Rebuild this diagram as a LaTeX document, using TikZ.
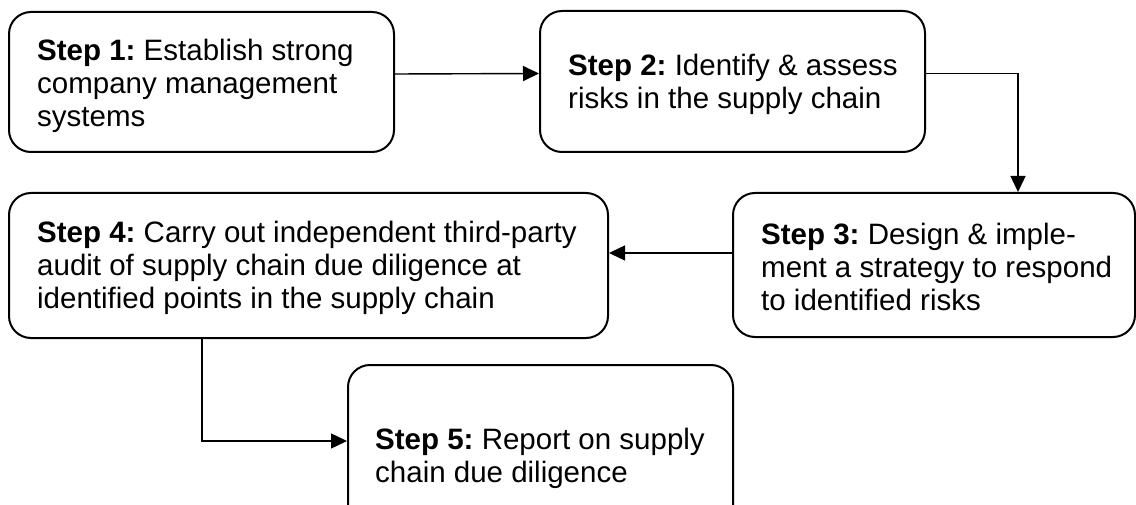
\documentclass[tikz,border=0pt]{standalone}
\usepackage{fontspec}
\setmainfont{Liberation Sans}
\usetikzlibrary{arrows.meta}
\frenchspacing
\begin{document}
\begin{tikzpicture}[x=1pt,y=-1pt,
  stepbox/.style={draw, line width=2pt, rounded corners=22pt, inner sep=0pt},
  steptext/.style={anchor=west, align=left, inner sep=0pt, font=\fontsize{29.5}{33}\selectfont},
  arr/.style={line width=1.4pt, -{Triangle[length=16pt,width=15pt]}}]
\useasboundingbox[fill=white] (0,0) rectangle (1136,505);
% boxes
\node[stepbox, minimum width=385pt, minimum height=140pt] (b1) at (201.5,82) {};
\node[stepbox, minimum width=385pt, minimum height=141pt] (b2) at (732.5,81.5) {};
\node[stepbox, minimum width=402pt, minimum height=144pt] (b3) at (934,265) {};
\node[stepbox, minimum width=599pt, minimum height=145pt] (b4) at (308.5,265.5) {};
\node[stepbox, minimum width=385pt, minimum height=180pt] (b5) at (540.5,455) {};
% texts
\node[steptext] (t1) at ([xshift=29pt,yshift=-4pt]b1.west) {\textbf{Step 1:} Establish strong\\company management\\systems};
\node[steptext] (t2) at ([xshift=29pt,yshift=-3pt]b2.west) {\textbf{Step 2:} Identify \& assess\\risks in the supply chain};
\node[steptext] (t3) at ([xshift=29pt,yshift=-2pt]b3.west) {\textbf{Step 3:} Design \& imple-\\ment a strategy to respond\\to identified risks};
\node[steptext] (t4) at ([xshift=29pt,yshift=-2pt]b4.west) {\textbf{Step 4:} Carry out independent third-party\\audit of supply chain due diligence at\\identified points in the supply chain};
\node[steptext] (t5) at ([xshift=28pt,yshift=-3pt]b5.west) {\textbf{Step 5:} Report on supply\\chain due diligence};
% connectors
\draw[arr] ([yshift=8pt]b1.east) -- ([yshift=8pt]b2.west);
\draw[arr] ([yshift=8pt]b2.east) -| ([xshift=84pt]b3.north);
\draw[arr] ([yshift=12pt]b3.west) -- ([yshift=12.5pt]b4.east);
\draw[arr] ([xshift=-106.5pt]b4.south) |- ([yshift=14pt]b5.west);
\end{tikzpicture}
\end{document}
